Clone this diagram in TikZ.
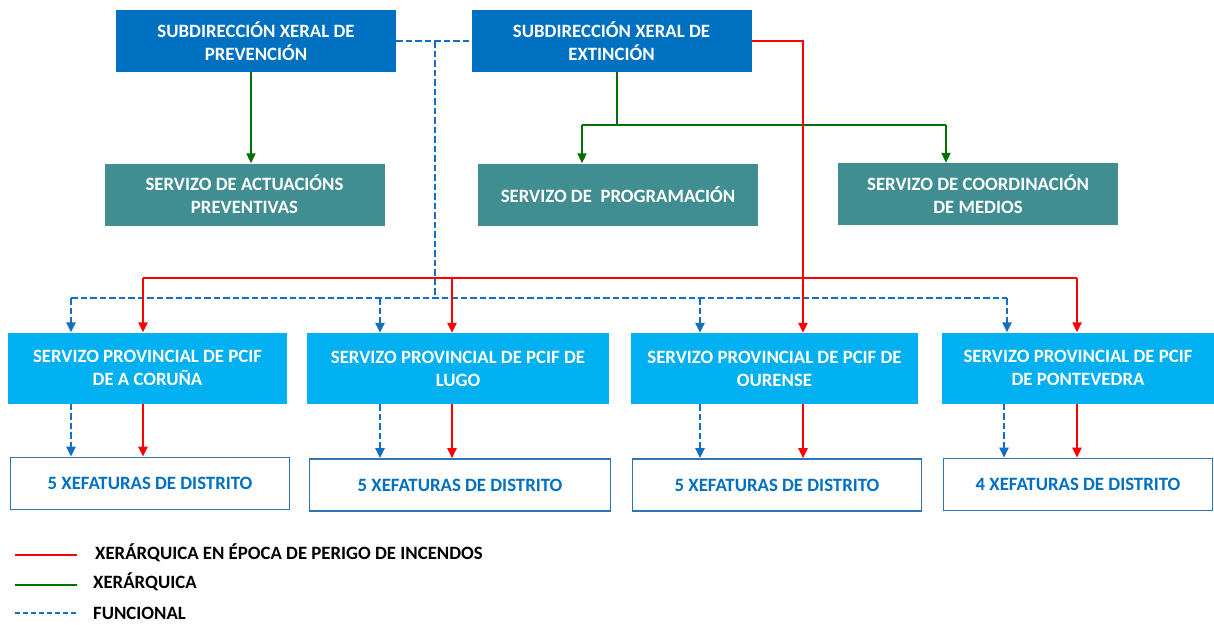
\documentclass[tikz,border=0pt]{standalone}
\usepackage{fontspec}
\setmainfont{Carlito}
\usetikzlibrary{arrows.meta}
\definecolor{subblue}{RGB}{0,112,192}
\definecolor{tealbox}{RGB}{64,142,146}
\definecolor{provblue}{RGB}{0,176,240}
\definecolor{xefborder}{RGB}{46,117,182}
\definecolor{hierred}{RGB}{255,0,0}
\definecolor{hiergreen}{RGB}{0,112,0}
\definecolor{funcblue}{RGB}{20,110,195}
\tikzset{
  boxbase/.style={rectangle, inner sep=0pt, align=center, font=\fontsize{18.8}{23}\selectfont\bfseries},
  subbox/.style={boxbase, fill=subblue, text=white, minimum width=280pt, minimum height=62pt},
  tealnode/.style={boxbase, fill=tealbox, text=white, minimum width=280pt, minimum height=62pt},
  provbox/.style={boxbase, fill=provblue, text=white, minimum height=71pt},
  xefbox/.style={boxbase, draw=xefborder, line width=1.6pt, fill=white, text=subblue, minimum height=52pt},
  redline/.style={draw=hierred, line width=2.3pt},
  greenline/.style={draw=hiergreen, line width=2pt},
  funcline/.style={draw=funcblue, line width=2.3pt, dash pattern=on 6.5pt off 3pt},
  tip/.style={-{Triangle[length=10pt,width=9pt]}},
  legtext/.style={anchor=west, inner sep=0pt, font=\fontsize{18.8}{22}\selectfont\bfseries, text=black},
}
\begin{document}
\begin{tikzpicture}[x=1pt,y=-1pt]
\useasboundingbox[fill=white] (0,0) rectangle (1214,624);
% top
\node[subbox] (prev) at (256,41) {SUBDIRECCIÓN XERAL DE\\PREVENCIÓN};
\node[subbox] (ext) at (611.5,41) {SUBDIRECCIÓN XERAL DE\\EXTINCIÓN};
% teal
\node[tealnode] (act) at (244.5,194.5) {SERVIZO DE ACTUACIÓNS\\PREVENTIVAS};
\node[tealnode] (prog) at (618,194.5) {SERVIZO DE\ \ PROGRAMACIÓN};
\node[tealnode] (coord) at (978,194) {SERVIZO DE COORDINACIÓN\\DE MEDIOS};
% provincial
\node[provbox, minimum width=279pt] (cor) at (147.5,368) {SERVIZO PROVINCIAL DE PCIF\\DE A CORUÑA};
\node[provbox, minimum width=302pt] (lug) at (458,368.5) {SERVIZO PROVINCIAL DE PCIF DE\\LUGO};
\node[provbox, minimum width=287pt] (our) at (774.5,368.5) {SERVIZO PROVINCIAL DE PCIF DE\\OURENSE};
\node[provbox, minimum width=272pt] (pon) at (1078,368) {SERVIZO PROVINCIAL DE PCIF\\DE PONTEVEDRA};
% xefaturas
\node[xefbox, minimum width=279pt] (xcor) at (150,483.5) {5 XEFATURAS DE DISTRITO};
\node[xefbox, minimum width=301pt] (xlug) at (460,485) {5 XEFATURAS DE DISTRITO};
\node[xefbox, minimum width=289pt] (xour) at (777,485) {5 XEFATURAS DE DISTRITO};
\node[xefbox, minimum width=269pt] (xpon) at (1078,484.5) {4 XEFATURAS DE DISTRITO};
% column coordinates
\coordinate (gA) at (251,0);
\coordinate (gB) at (617,125);
\coordinate (gL) at (582,125);
\coordinate (gR) at (946,125);
\coordinate (bV) at (435,41);
\coordinate (bH) at (0,298);
\coordinate (b1) at (71,298);
\coordinate (b2) at (380,298);
\coordinate (b3) at (700,298);
\coordinate (b4) at (1007,298);
\coordinate (r1) at (143,278);
\coordinate (r2) at (452,278);
\coordinate (r3) at (803,278);
\coordinate (r4) at (1077,278);
\coordinate (c1) at (71,0);
\coordinate (c2) at (380,0);
\coordinate (c3) at (700,0);
\coordinate (c4) at (1004,0);
% green
\draw[greenline, tip] (prev.south -| gA) -- (act.north -| gA);
\draw[greenline] (ext.south -| gB) -- (gB);
\draw[greenline] (gL) -- (gR);
\draw[greenline, tip] (gL) -- (prog.north -| gL);
\draw[greenline, tip] (gR) -- (coord.north -| gR);
% functional dashed
\draw[funcline] (prev.east) -- (ext.west);
\draw[funcline] (bV) -- (bV |- bH);
\draw[funcline] (b1) -- (b4);
\draw[funcline, tip] (b1) -- (cor.north -| b1);
\draw[funcline, tip] (b2) -- (lug.north -| b2);
\draw[funcline, tip] (b3) -- (our.north -| b3);
\draw[funcline, tip] (b4) -- (pon.north -| b4);
% red
\draw[redline, tip] (ext.east) -| (our.north -| r3);
\draw[redline] (r1) -- (r4);
\draw[redline, tip] (r1) -- (cor.north -| r1);
\draw[redline, tip] (r2) -- (lug.north -| r2);
\draw[redline, tip] (r4) -- (pon.north -| r4);
% lower connectors
\draw[funcline, tip] (cor.south -| c1) -- (xcor.north -| c1);
\draw[redline, tip] (cor.south -| r1) -- (xcor.north -| r1);
\draw[funcline, tip] (lug.south -| c2) -- (xlug.north -| c2);
\draw[redline, tip] (lug.south -| r2) -- (xlug.north -| r2);
\draw[funcline, tip] (our.south -| c3) -- (xour.north -| c3);
\draw[redline, tip] (our.south -| r3) -- (xour.north -| r3);
\draw[funcline, tip] (pon.south -| c4) -- (xpon.north -| c4);
\draw[redline, tip] (pon.south -| r4) -- (xpon.north -| r4);
% legend
\coordinate (l1a) at (15,555); \coordinate (l1b) at (77,555);
\coordinate (l2a) at (15,585); \coordinate (l2b) at (77,585);
\coordinate (l3a) at (15,613); \coordinate (l3b) at (77,613);
\draw[redline, line width=1.8pt] (l1a) -- (l1b);
\draw[greenline, line width=1.8pt] (l2a) -- (l2b);
\draw[funcline, line width=1.8pt, dash pattern=on 5pt off 3pt] (l3a) -- (l3b);
\node[legtext] (t1) at (95,553) {XERÁRQUICA EN ÉPOCA DE PERIGO DE INCENDOS};
\node[legtext] (t2) at (93,582) {XERÁRQUICA};
\node[legtext] (t3) at (93,613) {FUNCIONAL};
\end{tikzpicture}
\end{document}
